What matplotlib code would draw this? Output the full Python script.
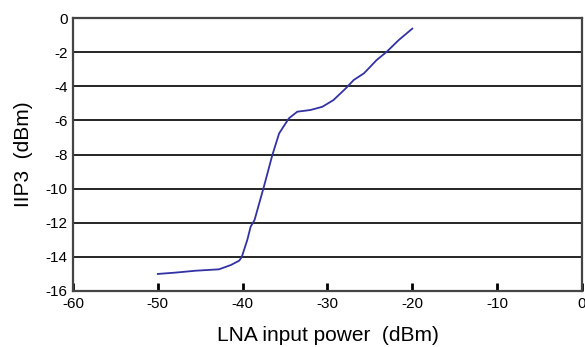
import matplotlib
matplotlib.use('Agg')
import matplotlib.pyplot as plt

plt.rcParams['font.family'] = ['Liberation Sans', 'DejaVu Sans']

# LNA input power (dBm) vs IIP3 (dBm)
pin = [-50.0, -48.1, -45.5, -42.8, -41.4, -40.4, -40.1, -39.45, -39.06, -38.6,
       -37.5, -36.5, -35.7, -34.55, -33.56, -32.0, -30.6, -29.3, -27.9, -26.9,
       -25.7, -24.2, -23.0, -21.6, -20.0]
iip3 = [-15.0, -14.93, -14.81, -14.73, -14.48, -14.22, -14.0, -13.0, -12.23, -11.84,
        -9.89, -8.03, -6.76, -5.88, -5.49, -5.39, -5.2, -4.81, -4.15, -3.63,
        -3.24, -2.46, -1.97, -1.29, -0.62]

xticks = [-60, -50, -40, -30, -20, -10, 0]
yticks = [0, -2, -4, -6, -8, -10, -12, -14, -16]

fig = plt.figure(figsize=(5.85, 3.47), dpi=100)
ax = fig.add_axes([0.1248, 0.1614, 0.870, 0.7866])

ax.plot(pin, iip3, color='#3232a4', linewidth=1.3)

ax.set_xlim(-60, 0)
ax.set_ylim(-16, 0)
ax.set_xticks(xticks)
ax.set_yticks(yticks)
ax.set_xticklabels([str(v) for v in xticks])
ax.set_yticklabels([str(v) for v in yticks])

for y in yticks[1:-1]:
    ax.axhline(y, color='black', linewidth=1.2, zorder=1)

for s in ax.spines.values():
    s.set_color('#444444')
    s.set_linewidth(1.6)

ax.tick_params(axis='x', direction='in', length=6, width=2, color='black',
               labelsize=11, pad=4)
ax.tick_params(axis='y', length=0, labelsize=11, pad=4)

ax.set_xlabel('LNA input power  (dBm)', fontsize=15)
ax.set_ylabel('IIP3  (dBm)', fontsize=15)
ax.xaxis.set_label_coords(0.5, -0.13)
ax.yaxis.set_label_coords(-0.078, 0.5)

fig.savefig('out.png', dpi=100)
